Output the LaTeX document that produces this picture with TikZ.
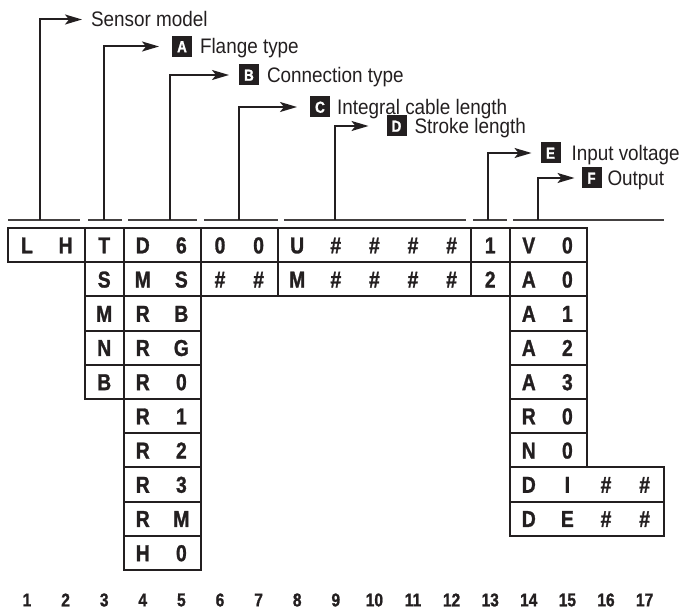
\documentclass[tikz,border=0pt]{standalone}
\usepackage{fontspec}
\usepackage{tikz}
\usetikzlibrary{arrows.meta}
\usetikzlibrary{positioning}
\newfontfamily\condfont{Liberation Sans}[FakeStretch=0.9]
\newfontfamily\tabfont{Liberation Sans}[FakeStretch=0.84,BoldFeatures={FakeBold=1.2}]
\definecolor{ink}{HTML}{231F20}
\newcommand{\ltr}[1]{\makebox[38.6pt]{#1}}

\begin{document}
\begin{tikzpicture}[x=1pt,y=-1pt,>={Stealth[length=17pt,width=10pt,inset=4pt]},
                    color=ink,line width=2pt,
                    codebox/.style={draw,minimum width=#1*38.6pt,minimum height=34.2pt,
                      inner sep=0pt,outer sep=0pt,text height=16.5pt,text depth=0pt,
                      font=\tabfont\bfseries\fontsize{23}{24}\selectfont},
                    codebox/.default=1,
                    tag/.style={fill=ink,text=white,minimum width=20pt,minimum height=21pt,
                      inner sep=0pt,text height=11.5pt,text depth=0pt,
                      font=\tabfont\bfseries\fontsize{16}{16}\selectfont},
                    lbl/.style={inner sep=0pt,anchor=west,text height=15pt,text depth=0pt,
                      font=\condfont\fontsize{21}{24}\selectfont},
                    colnum/.style={minimum width=38.6pt,inner sep=0pt,outer sep=0pt,
                      font=\tabfont\bfseries\fontsize{18.5}{20}\selectfont},
                    bracket/.style={line width=1.6pt,color=ink!85},
                    lead/.style={->,line width=2pt}]

  \useasboundingbox (0,0) rectangle (682,612);

  % field names
  \node[lbl] (sensor) at (90,19.5) {Sensor model};
  \node[tag] (tA) at (182,46.5) {A};
  \node[lbl, right=6pt of tA] (lA) {Flange type};
  \node[tag] (tB) at (249,75) {B};
  \node[lbl, right=6pt of tB] (lB) {Connection type};
  \node[tag] (tC) at (320,107) {C};
  \node[lbl, right=5pt of tC] (lC) {Integral cable length};
  \node[tag] (tD) at (396.5,126) {D};
  \node[lbl, right=6pt of tD] (lD) {Stroke length};
  \node[tag] (tE) at (550.5,153) {E};
  \node[lbl, right=9pt of tE] (lE) {Input voltage};
  \node[tag] (tF) at (591.5,178) {F};
  \node[lbl, right=4pt of tF] (lF) {Output};

  % brackets over the groups
  \draw[bracket] (8,220) -- (80,220);
  \draw[bracket] (88,220) -- (122,220);
  \draw[bracket] (128,220) -- (197,220);
  \draw[bracket] (204,220) -- (278,220);
  \draw[bracket] (284,220) -- (466,220);
  \draw[bracket] (473,220) -- (507,220);
  \draw[bracket] (513,220) -- (664,220);

  \coordinate (fS) at (40,220);
  \coordinate (fA) at (104,220);
  \coordinate (fB) at (170,220);
  \coordinate (fC) at (239,220);
  \coordinate (fD) at (335,220);
  \coordinate (fE) at (488,220);
  \coordinate (fF) at (538,220);

  \draw[lead, shorten >=8pt] (fS) |- (sensor);
  \draw[lead, shorten >=12pt] (fA) |- (tA);
  \draw[lead, shorten >=9pt] (fB) |- (tB);
  \draw[lead, shorten >=12pt] (fC) |- (tC);
  \draw[lead, shorten >=17pt] (fD) |- (tD);
  \draw[lead, shorten >=8pt] (fE) |- (tE);
  \draw[lead, shorten >=6pt] (fF) |- (tF);

  % code table
  \node[codebox=2] (lh) at (46.3,245.1) {\ltr{L}\ltr{H}};
  \node[codebox, right=0pt of lh] (t1) {T};
  \node[codebox=2, right=0pt of t1] (d1) {\ltr{D}\ltr{6}};
  \node[codebox=2, right=0pt of d1] (e1) {\ltr{0}\ltr{0}};
  \node[codebox=5, right=0pt of e1] (u1) {\ltr{U}\ltr{\#}\ltr{\#}\ltr{\#}\ltr{\#}};
  \node[codebox, right=0pt of u1] (n1) {1};
  \node[codebox=2, right=0pt of n1] (v1) {\ltr{V}\ltr{0}};

  \node[codebox, below=0pt of t1] (t2) {S};
  \node[codebox, below=0pt of t2] (t3) {M};
  \node[codebox, below=0pt of t3] (t4) {N};
  \node[codebox, below=0pt of t4] (t5) {B};

  \node[codebox=2, below=0pt of d1] (d2) {\ltr{M}\ltr{S}};
  \node[codebox=2, below=0pt of d2] (d3) {\ltr{R}\ltr{B}};
  \node[codebox=2, below=0pt of d3] (d4) {\ltr{R}\ltr{G}};
  \node[codebox=2, below=0pt of d4] (d5) {\ltr{R}\ltr{0}};
  \node[codebox=2, below=0pt of d5] (d6) {\ltr{R}\ltr{1}};
  \node[codebox=2, below=0pt of d6] (d7) {\ltr{R}\ltr{2}};
  \node[codebox=2, below=0pt of d7] (d8) {\ltr{R}\ltr{3}};
  \node[codebox=2, below=0pt of d8] (d9) {\ltr{R}\ltr{M}};
  \node[codebox=2, below=0pt of d9] (d10) {\ltr{H}\ltr{0}};

  \node[codebox=2, below=0pt of e1] (e2) {\ltr{\#}\ltr{\#}};
  \node[codebox=5, below=0pt of u1] (u2) {\ltr{M}\ltr{\#}\ltr{\#}\ltr{\#}\ltr{\#}};
  \node[codebox, below=0pt of n1] (n2) {2};

  \node[codebox=2, below=0pt of v1] (v2) {\ltr{A}\ltr{0}};
  \node[codebox=2, below=0pt of v2] (v3) {\ltr{A}\ltr{1}};
  \node[codebox=2, below=0pt of v3] (v4) {\ltr{A}\ltr{2}};
  \node[codebox=2, below=0pt of v4] (v5) {\ltr{A}\ltr{3}};
  \node[codebox=2, below=0pt of v5] (v6) {\ltr{R}\ltr{0}};
  \node[codebox=2, below=0pt of v6] (v7) {\ltr{N}\ltr{0}};
  \node[codebox=4, anchor=north west] (w8) at (v7.south west) {\ltr{D}\ltr{I}\ltr{\#}\ltr{\#}};
  \node[codebox=4, below=0pt of w8] (w9) {\ltr{D}\ltr{E}\ltr{\#}\ltr{\#}};

  % position numbers
  \node[colnum] (k1) at (27,600) {1};
  \node[colnum, right=0pt of k1] (k2) {2};
  \node[colnum, right=0pt of k2] (k3) {3};
  \node[colnum, right=0pt of k3] (k4) {4};
  \node[colnum, right=0pt of k4] (k5) {5};
  \node[colnum, right=0pt of k5] (k6) {6};
  \node[colnum, right=0pt of k6] (k7) {7};
  \node[colnum, right=0pt of k7] (k8) {8};
  \node[colnum, right=0pt of k8] (k9) {9};
  \node[colnum, right=0pt of k9] (k10) {10};
  \node[colnum, right=0pt of k10] (k11) {11};
  \node[colnum, right=0pt of k11] (k12) {12};
  \node[colnum, right=0pt of k12] (k13) {13};
  \node[colnum, right=0pt of k13] (k14) {14};
  \node[colnum, right=0pt of k14] (k15) {15};
  \node[colnum, right=0pt of k15] (k16) {16};
  \node[colnum, right=0pt of k16] (k17) {17};
\end{tikzpicture}
\end{document}
